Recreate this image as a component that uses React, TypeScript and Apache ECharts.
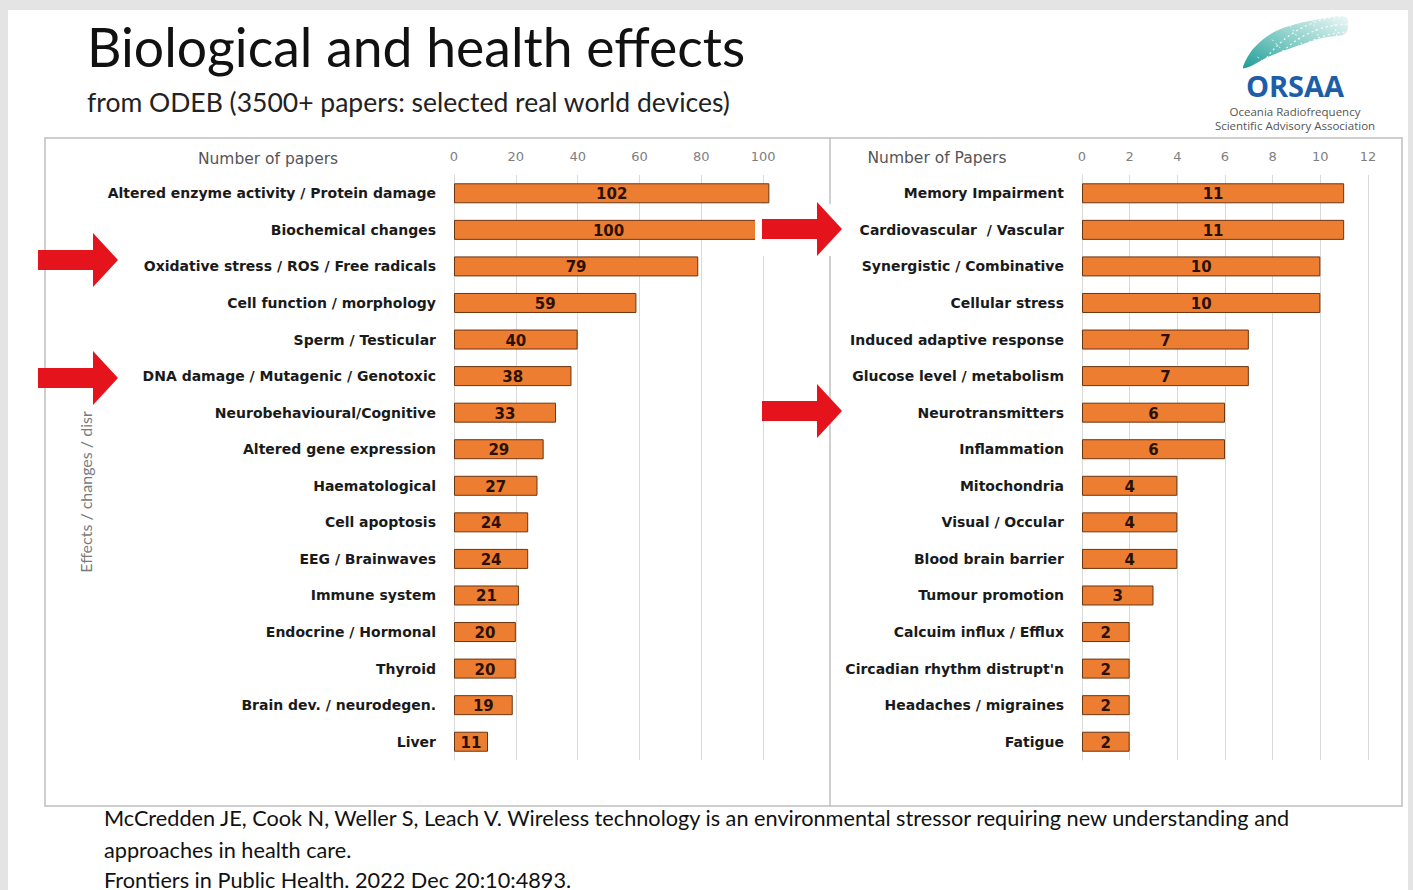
import React, { useEffect, useRef } from "react";
import * as echarts from "echarts";

const leftCategories = [
  "Altered enzyme activity / Protein damage",
  "Biochemical changes",
  "Oxidative stress / ROS / Free radicals",
  "Cell function / morphology",
  "Sperm / Testicular",
  "DNA damage / Mutagenic / Genotoxic",
  "Neurobehavioural/Cognitive",
  "Altered gene expression",
  "Haematological",
  "Cell apoptosis",
  "EEG / Brainwaves",
  "Immune system",
  "Endocrine / Hormonal",
  "Thyroid",
  "Brain dev. / neurodegen.",
  "Liver",
];
const leftValues = [102, 100, 79, 59, 40, 38, 33, 29, 27, 24, 24, 21, 20, 20, 19, 11];

const rightCategories = [
  "Memory Impairment",
  "Cardiovascular  / Vascular",
  "Synergistic / Combinative",
  "Cellular stress",
  "Induced adaptive response",
  "Glucose level / metabolism",
  "Neurotransmitters",
  "Inflammation",
  "Mitochondria",
  "Visual / Occular",
  "Blood brain barrier",
  "Tumour promotion",
  "Calcuim influx / Efflux",
  "Circadian rhythm distrupt'n",
  "Headaches / migraines",
  "Fatigue",
];
const rightValues = [11, 11, 10, 10, 7, 7, 6, 6, 4, 4, 4, 3, 2, 2, 2, 2];

const leftTicks = { min: 0, max: 120, interval: 20 };
const rightTicks = { min: 0, max: 12, interval: 2 };

const title = "Biological and health effects";
const subtitle = "from ODEB (3500+ papers: selected real world devices)";
const citation = [
  "McCredden JE, Cook N, Weller S, Leach V. Wireless technology is an environmental stressor requiring new understanding and",
  "approaches in health care.",
  "Frontiers in Public Health. 2022 Dec 20:10:4893.",
];

const ORANGE = "#ED7D31";
const BAR_BORDER = "#6b3510";
const GRID_COLOR = "#d9d9d9";
const RED = "#E5141C";

function arrow(x: number, cy: number) {
  return {
    type: "polygon",
    shape: {
      points: [
        [x, cy - 10],
        [x + 55, cy - 10],
        [x + 55, cy - 27],
        [x + 80, cy],
        [x + 55, cy + 27],
        [x + 55, cy + 10],
        [x, cy + 10],
      ],
    },
    style: { fill: RED },
    z: 100,
  };
}

export default function App() {
  const ref = useRef<HTMLDivElement>(null);
  useEffect(() => {
    if (!ref.current) return;
    const chart = echarts.init(ref.current, undefined, { renderer: "svg" });
    const catLabel = {
      fontFamily: "DejaVu Sans",
      fontWeight: "bold" as const,
      fontSize: 14,
      color: "#1a1a1a",
      margin: 18,
    };
    const valLabel = {
      show: true,
      position: "inside" as const,
      fontFamily: "DejaVu Sans",
      fontWeight: "bold" as const,
      fontSize: 15,
      color: "#2b1200",
      offset: [0, 1],
    };
    const xLabel = {
      color: "#808080",
      fontSize: 13,
      fontFamily: "DejaVu Sans",
      margin: 12,
    };
    const globeUpper = [
      [1243, 68], [1250, 53], [1261, 41], [1276, 31], [1296, 24], [1320, 19], [1346, 17],
    ];
    const globeLower = [
      [1346, 33], [1322, 38], [1300, 45], [1280, 52], [1264, 59], [1251, 66],
    ];
    const option: any = {
      animation: false,
      backgroundColor: "#e4e4e4",
      grid: [
        { left: 454, top: 175, width: 371, height: 585, containLabel: false },
        { left: 1082, top: 175, width: 286, height: 585, containLabel: false },
      ],
      xAxis: [
        {
          gridIndex: 0,
          type: "value",
          position: "top",
          ...leftTicks,
          axisLine: { show: false },
          axisTick: { show: false },
          axisLabel: { ...xLabel, showMaxLabel: false },
          splitLine: { show: true, showMaxLine: false, lineStyle: { color: GRID_COLOR } },
        },
        {
          gridIndex: 1,
          type: "value",
          position: "top",
          ...rightTicks,
          axisLine: { show: false },
          axisTick: { show: false },
          axisLabel: xLabel,
          splitLine: { lineStyle: { color: GRID_COLOR } },
        },
      ],
      yAxis: [
        {
          gridIndex: 0,
          type: "category",
          inverse: true,
          data: leftCategories,
          axisLine: { show: true, lineStyle: { color: GRID_COLOR } },
          axisTick: { show: false },
          axisLabel: catLabel,
        },
        {
          gridIndex: 1,
          type: "category",
          inverse: true,
          data: rightCategories,
          axisLine: { show: true, lineStyle: { color: GRID_COLOR } },
          axisTick: { show: false },
          axisLabel: catLabel,
        },
      ],
      series: [
        {
          type: "bar",
          xAxisIndex: 0,
          yAxisIndex: 0,
          data: leftValues,
          barWidth: 20,
          itemStyle: { color: ORANGE, borderColor: BAR_BORDER, borderWidth: 1 },
          label: valLabel,
        },
        {
          type: "bar",
          xAxisIndex: 1,
          yAxisIndex: 1,
          data: rightValues,
          barWidth: 20,
          itemStyle: { color: ORANGE, borderColor: BAR_BORDER, borderWidth: 1 },
          label: valLabel,
        },
      ],
      graphic: [
        { type: "rect", shape: { x: 8, y: 10, width: 1400, height: 880 }, style: { fill: "#ffffff" }, z: -10 },
        {
          type: "rect",
          shape: { x: 45, y: 138, width: 1357, height: 668 },
          style: { fill: "none", stroke: "#bfbfbf", lineWidth: 1.5 },
          z: -5,
        },
        {
          type: "line",
          shape: { x1: 830, y1: 138, x2: 830, y2: 806 },
          style: { stroke: "#bfbfbf", lineWidth: 1.5 },
          z: -5,
        },
        {
          type: "text",
          left: 87,
          top: 19,
          style: { text: title, font: "53.5px Lato", fill: "#111111" },
        },
        {
          type: "text",
          left: 87,
          top: 88,
          style: { text: subtitle, font: "26.5px Lato", fill: "#222222" },
        },
        {
          type: "text",
          x: 268,
          y: 159,
          style: { text: "Number of papers", font: "15.5px 'DejaVu Sans'", fill: "#555555", align: "center", verticalAlign: "middle" },
        },
        {
          type: "text",
          x: 937,
          y: 158,
          style: { text: "Number of Papers", font: "15.5px 'DejaVu Sans'", fill: "#555555", align: "center", verticalAlign: "middle" },
        },
        {
          type: "text",
          x: 85,
          y: 492,
          rotation: Math.PI / 2,
          style: { text: "Effects / changes / disr", font: "16px Lato", fill: "#7a7a7a", align: "center", verticalAlign: "middle" },
        },
        {
          type: "text",
          left: 104,
          top: 807,
          style: { text: citation[0], font: "21.7px Lato", fill: "#111111" },
        },
        {
          type: "text",
          left: 104,
          top: 839,
          style: { text: citation[1], font: "21.7px Lato", fill: "#111111" },
        },
        {
          type: "text",
          left: 104,
          top: 869,
          style: { text: citation[2], font: "21.7px Lato", fill: "#111111" },
        },
        { type: "rect", shape: { x: 755, y: 204, width: 88, height: 52 }, style: { fill: "#ffffff" }, z: 90 },
        arrow(38, 260),
        arrow(38, 378),
        arrow(762, 229),
        arrow(762, 411),
        // logo globe (mesh dome)
        {
          type: "polygon",
          shape: { points: [...globeUpper, ...globeLower], smooth: 0.3 },
          style: {
            fill: new echarts.graphic.LinearGradient(0, 1, 1, 0, [
              { offset: 0, color: "#1f9c96" },
              { offset: 0.45, color: "#7fcbc5" },
              { offset: 1, color: "#eef8f7" },
            ]),
          },
        },
        ...[0, 1, 2, 3, 4].map((i) => ({
          type: "arc",
          shape: { cx: 1350, cy: 120, r: 72 + i * 8, startAngle: Math.PI * 1.02, endAngle: Math.PI * 1.52 },
          style: { stroke: "#ffffff", lineWidth: 1.2, lineDash: [2, 3], fill: "none", opacity: 0.9 },
        })),
        ...[0, 1, 2, 3, 4, 5, 6].map((i) => ({
          type: "line",
          shape: {
            x1: 1350 + Math.cos(Math.PI * (1.06 + i * 0.065)) * 60,
            y1: 120 + Math.sin(Math.PI * (1.06 + i * 0.065)) * 60,
            x2: 1350 + Math.cos(Math.PI * (1.06 + i * 0.065)) * 115,
            y2: 120 + Math.sin(Math.PI * (1.06 + i * 0.065)) * 115,
          },
          style: { stroke: "#ffffff", lineWidth: 1, lineDash: [2, 3], opacity: 0.8 },
        })),
        { type: "rect", shape: { x: 1230, y: 70, width: 140, height: 30 }, style: { fill: "#ffffff" } },
        {
          type: "text",
          x: 1295,
          y: 85,
          style: { text: "ORSAA", font: "bold 29px 'Open Sans'", fill: "#1d5ea8", align: "center", verticalAlign: "middle" },
        },
        {
          type: "text",
          x: 1295,
          y: 111,
          style: { text: "Oceania Radiofrequency", font: "11.5px 'Open Sans'", fill: "#555555", align: "center", verticalAlign: "middle" },
        },
        {
          type: "text",
          x: 1295,
          y: 125,
          style: { text: "Scientific Advisory Association", font: "11.5px 'Open Sans'", fill: "#555555", align: "center", verticalAlign: "middle" },
        },
      ],
    };
    chart.setOption(option);
    return () => chart.dispose();
  }, []);
  return <div ref={ref} style={{ position: "fixed", left: 0, top: 0, width: 1413, height: 890 }} />;
}
